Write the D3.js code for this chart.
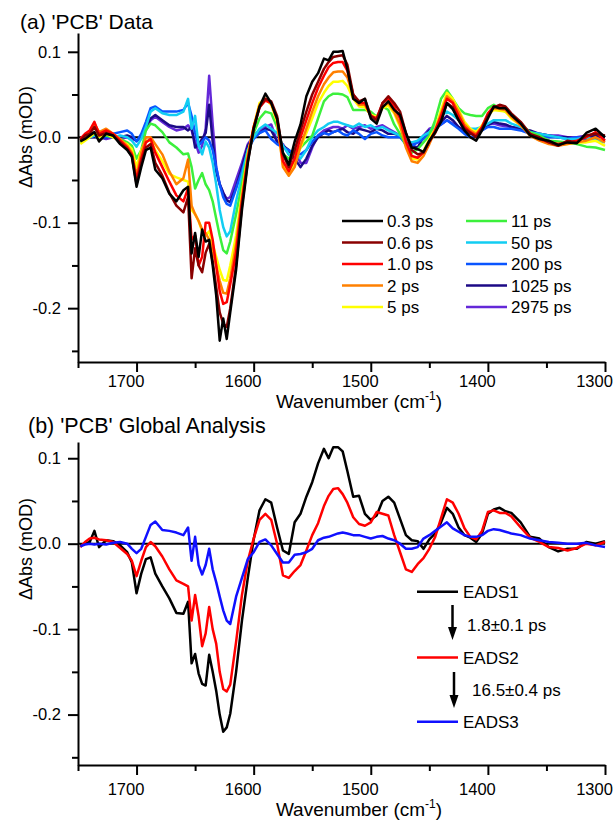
<!DOCTYPE html>
<html><head><meta charset="utf-8">
<script src="https://cdn.jsdelivr.net/npm/d3@7"></script>
<style>
body{margin:0;background:#fff}
svg{display:block}
text{font-family:"Liberation Sans",Arial,sans-serif;fill:#000}
</style>
</head><body>
<svg id="chart" width="614" height="820"></svg>
<script>
// ---------------- DATA ----------------
const wavenumber = [
 1748,1744,1740,1736,1732,1726,1720,1714,1708,1704,
 1700,1696,1692,1688,1684,1678,1672,1666,1660,1656,
 1653,1650,1647,1644,1641,1638,1635,1632,1629,1626,
 1623,1620,1615,1610,1605,1600,1595,1590,1585,1580,
 1575,1570,1565,1560,1555,1550,1545,1540,1536,1532,
 1528,1524,1520,1515,1510,1505,1500,1495,1490,1485,
 1480,1475,1470,1465,1460,1455,1450,1445,1440,1435,
 1430,1425,1420,1415,1410,1405,1400,1395,1390,1385,
 1380,1372,1364,1356,1348,1340,1332,1324,1316,1308,
 1300];

const delayLabels = ["0.3 ps","0.6 ps","1.0 ps","2 ps","5 ps","11 ps","50 ps","200 ps","1025 ps","2975 ps"];

const pcb_0_3ps = [
 -0.005,-0.002,0.002,0.006,-0.005,0.004,0.002,-0.008,-0.015,-0.023,
 -0.058,-0.035,-0.015,-0.012,-0.038,-0.048,-0.066,-0.075,-0.062,-0.058,
 -0.136,-0.112,-0.140,-0.108,-0.122,-0.120,-0.150,-0.185,-0.238,-0.212,
 -0.236,-0.205,-0.155,-0.085,-0.030,0.010,0.036,0.051,0.040,0.022,
 -0.018,-0.032,-0.005,0.015,0.048,0.065,0.075,0.092,0.090,0.100,
 0.100,0.101,0.080,0.045,0.040,0.045,0.022,0.016,0.035,0.042,
 0.032,0.026,0.005,-0.012,-0.014,-0.017,-0.004,0.006,0.018,0.040,
 0.033,0.020,0.008,0.000,-0.004,0.008,0.022,0.036,0.034,0.034,
 0.026,0.016,0.002,-0.002,-0.004,-0.009,-0.006,-0.007,0.005,0.010,
 0.000];
const pcb_0_6ps = [
 -0.004,0.002,0.004,0.012,0.002,0.005,0.002,-0.006,-0.014,-0.022,
 -0.055,-0.030,-0.012,-0.008,-0.030,-0.045,-0.065,-0.080,-0.088,-0.070,
 -0.165,-0.130,-0.150,-0.158,-0.135,-0.125,-0.145,-0.175,-0.205,-0.218,
 -0.222,-0.200,-0.150,-0.080,-0.028,0.010,0.035,0.045,0.042,0.025,
 -0.020,-0.035,-0.015,0.008,0.030,0.050,0.065,0.080,0.088,0.094,
 0.095,0.096,0.085,0.050,0.042,0.045,0.025,0.020,0.040,0.048,
 0.040,0.030,0.005,-0.015,-0.020,-0.018,-0.005,0.005,0.020,0.040,
 0.035,0.020,0.010,0.005,0.000,0.010,0.025,0.035,0.038,0.036,
 0.028,0.018,0.004,0.000,-0.006,-0.010,-0.004,-0.006,0.002,0.004,
 0.002];
const pcb_1_0ps = [
 -0.002,0.004,0.008,0.018,0.004,0.008,0.004,-0.004,-0.012,-0.020,
 -0.050,-0.025,-0.006,-0.002,-0.018,-0.035,-0.052,-0.068,-0.075,-0.060,
 -0.120,-0.115,-0.150,-0.140,-0.100,-0.100,-0.120,-0.150,-0.180,-0.195,
 -0.193,-0.172,-0.135,-0.075,-0.025,0.012,0.035,0.043,0.040,0.022,
 -0.028,-0.040,-0.025,0.000,0.020,0.040,0.058,0.072,0.082,0.087,
 0.088,0.088,0.078,0.050,0.040,0.040,0.025,0.022,0.040,0.045,
 0.036,0.022,-0.005,-0.022,-0.024,-0.018,-0.005,0.008,0.025,0.045,
 0.040,0.025,0.012,0.006,0.002,0.012,0.028,0.036,0.035,0.034,
 0.026,0.016,0.004,-0.002,-0.006,-0.008,-0.006,-0.004,0.000,0.006,
 -0.004];
const pcb_2ps = [
 -0.004,0.002,0.006,0.016,0.006,0.010,0.004,-0.002,-0.010,-0.018,
 -0.045,-0.018,0.000,0.000,-0.008,-0.020,-0.040,-0.055,-0.048,-0.026,
 -0.080,-0.090,-0.098,-0.108,-0.112,-0.120,-0.132,-0.150,-0.168,-0.182,
 -0.183,-0.165,-0.125,-0.070,-0.022,0.012,0.038,0.045,0.040,0.020,
 -0.035,-0.045,-0.035,-0.010,0.010,0.030,0.048,0.062,0.070,0.076,
 0.077,0.077,0.070,0.048,0.038,0.038,0.025,0.022,0.036,0.040,
 0.030,0.015,-0.012,-0.028,-0.030,-0.022,-0.008,0.008,0.028,0.048,
 0.042,0.030,0.015,0.008,0.004,0.012,0.026,0.034,0.033,0.032,
 0.024,0.014,0.002,-0.004,-0.008,-0.010,-0.008,-0.006,-0.004,0.000,
 -0.006];
const pcb_5ps = [
 -0.008,-0.004,0.000,0.005,0.000,0.004,0.000,-0.004,-0.008,-0.014,
 -0.035,-0.015,-0.004,-0.004,-0.015,-0.028,-0.043,-0.047,-0.050,-0.052,
 -0.085,-0.090,-0.098,-0.110,-0.115,-0.110,-0.125,-0.140,-0.155,-0.167,
 -0.168,-0.150,-0.115,-0.065,-0.020,0.012,0.040,0.045,0.038,0.018,
 -0.032,-0.042,-0.030,-0.012,0.005,0.022,0.040,0.052,0.060,0.065,
 0.065,0.066,0.060,0.045,0.036,0.035,0.026,0.024,0.034,0.037,
 0.028,0.012,-0.008,-0.025,-0.026,-0.016,-0.002,0.010,0.032,0.052,
 0.045,0.032,0.018,0.010,0.006,0.014,0.026,0.032,0.031,0.030,
 0.022,0.014,0.004,-0.002,-0.006,-0.008,-0.008,-0.006,-0.006,-0.004,
 -0.010];
const pcb_11ps = [
 -0.006,-0.002,0.002,0.004,0.002,0.002,0.000,-0.002,-0.006,-0.010,
 -0.025,-0.015,0.008,0.016,0.014,0.006,-0.006,-0.012,-0.020,-0.019,
 -0.035,-0.060,-0.050,-0.042,-0.055,-0.062,-0.075,-0.095,-0.115,-0.132,
 -0.136,-0.122,-0.090,-0.055,-0.018,0.005,0.022,0.030,0.028,0.012,
 -0.020,-0.025,-0.018,-0.012,-0.005,0.002,0.022,0.042,0.048,0.051,
 0.051,0.050,0.047,0.032,0.032,0.032,0.030,0.024,0.036,0.032,
 0.015,0.004,-0.010,-0.018,-0.014,-0.006,0.002,0.020,0.045,0.055,
 0.045,0.034,0.028,0.026,0.025,0.025,0.034,0.038,0.033,0.030,
 0.026,0.015,0.006,0.002,-0.004,-0.005,-0.006,-0.008,-0.011,-0.012,
 -0.015];
const pcb_50ps = [
 -0.004,-0.002,0.000,0.002,0.000,0.002,0.000,0.002,0.000,-0.004,
 -0.011,-0.002,0.012,0.030,0.034,0.028,0.026,0.026,0.030,0.045,
 0.010,0.025,-0.010,-0.020,-0.005,-0.012,-0.030,-0.055,-0.085,-0.105,
 -0.116,-0.110,-0.075,-0.045,-0.015,0.000,0.010,0.015,0.010,0.005,
 -0.010,-0.020,-0.018,-0.025,-0.015,0.000,0.008,0.012,0.016,0.018,
 0.018,0.016,0.014,0.012,0.016,0.012,0.014,0.010,0.012,0.008,
 0.005,0.002,-0.004,-0.006,-0.004,0.002,0.006,0.015,0.025,0.030,
 0.026,0.020,0.014,0.010,0.010,0.012,0.016,0.020,0.020,0.020,
 0.016,0.012,0.006,0.004,0.002,0.000,-0.002,-0.002,0.000,-0.004,
 -0.006];
const pcb_200ps = [
 -0.004,-0.002,0.000,0.002,0.000,0.000,0.004,0.006,0.008,0.004,
 -0.005,0.004,0.018,0.034,0.036,0.030,0.030,0.030,0.032,0.040,
 0.025,0.005,-0.010,-0.005,0.000,-0.004,-0.015,-0.035,-0.055,-0.070,
 -0.078,-0.080,-0.060,-0.040,-0.015,-0.002,0.005,0.008,-0.002,-0.008,
 -0.012,-0.015,-0.020,-0.020,-0.015,-0.005,0.002,0.005,0.003,0.006,
 0.008,0.004,0.002,0.008,0.004,-0.002,0.004,0.006,0.002,0.000,
 0.000,0.000,-0.008,-0.010,-0.006,-0.002,0.004,0.010,0.015,0.020,
 0.015,0.010,0.004,0.000,0.002,0.008,0.012,0.012,0.010,0.010,
 0.010,0.008,0.004,0.002,0.000,0.000,-0.002,0.000,-0.002,-0.002,
 -0.004];
const pcb_1025ps = [
 -0.002,0.000,0.000,0.000,0.000,0.000,0.002,0.000,0.002,0.000,
 -0.004,0.000,0.010,0.022,0.026,0.020,0.014,0.012,0.012,0.008,
 0.012,-0.012,-0.008,-0.002,0.005,0.038,-0.005,-0.040,-0.055,-0.065,
 -0.074,-0.076,-0.058,-0.035,-0.010,0.000,0.005,0.010,0.008,-0.005,
 -0.010,-0.015,-0.025,-0.035,-0.025,-0.010,0.000,0.005,0.008,0.006,
 0.008,0.010,0.006,0.004,0.010,0.008,0.006,0.010,0.008,0.004,
 0.004,0.002,-0.004,-0.010,-0.012,0.000,0.008,0.010,0.018,0.025,
 0.020,0.012,0.006,0.004,0.004,0.010,0.014,0.018,0.016,0.015,
 0.012,0.010,0.008,0.004,0.002,0.000,0.000,-0.002,0.000,0.002,
 0.000];
const pcb_2975ps = [
 -0.002,0.000,0.000,0.002,0.000,-0.002,0.000,-0.002,0.000,-0.002,
 -0.004,0.000,0.008,0.020,0.024,0.018,0.012,0.008,0.010,0.014,
 0.008,-0.005,-0.018,-0.010,0.010,0.072,0.015,-0.035,-0.055,-0.065,
 -0.072,-0.070,-0.050,-0.030,-0.008,0.002,0.008,0.012,0.015,-0.005,
 -0.008,-0.020,-0.015,-0.030,-0.030,-0.012,0.002,0.008,0.010,0.012,
 0.012,0.010,0.014,0.010,0.012,0.014,0.010,0.012,0.014,0.010,
 0.006,0.002,-0.004,-0.008,-0.006,0.002,0.010,0.012,0.015,0.020,
 0.016,0.012,0.008,0.006,0.008,0.012,0.015,0.016,0.014,0.013,
 0.012,0.010,0.006,0.004,0.002,0.002,0.000,0.000,0.002,0.000,
 0.002];

const eadsLabels = ["EADS1","EADS2","EADS3"];
const lifetimeLabels = ["1.8\u00b10.1 ps","16.5\u00b10.4 ps"];

const eads1 = [
 -0.002,0.000,0.002,0.015,-0.004,0.004,0.003,-0.002,-0.010,-0.022,
 -0.058,-0.035,-0.018,-0.016,-0.035,-0.050,-0.064,-0.081,-0.082,-0.068,
 -0.140,-0.129,-0.152,-0.164,-0.166,-0.130,-0.150,-0.172,-0.200,-0.220,
 -0.215,-0.199,-0.150,-0.090,-0.040,0.005,0.039,0.052,0.048,0.019,
 -0.008,-0.012,0.025,0.035,0.055,0.072,0.094,0.111,0.100,0.113,
 0.113,0.108,0.085,0.055,0.056,0.035,0.028,0.033,0.050,0.055,
 0.048,0.029,0.010,0.004,0.003,-0.006,0.005,0.012,0.025,0.042,
 0.035,0.019,0.010,0.007,0.002,0.012,0.035,0.040,0.042,0.038,
 0.036,0.025,0.008,0.006,-0.004,-0.009,-0.006,-0.006,0.002,0.000,
 0.003];
const eads2 = [
 -0.004,0.002,0.006,0.007,0.005,0.004,0.002,-0.005,-0.012,-0.020,
 -0.038,-0.020,-0.004,0.002,-0.003,-0.015,-0.030,-0.043,-0.047,-0.050,
 -0.090,-0.060,-0.085,-0.120,-0.105,-0.074,-0.100,-0.117,-0.150,-0.170,
 -0.173,-0.165,-0.115,-0.060,-0.020,0.006,0.028,0.035,0.028,0.000,
 -0.037,-0.040,-0.032,-0.025,-0.008,0.010,0.024,0.044,0.056,0.064,
 0.065,0.058,0.048,0.031,0.023,0.021,0.025,0.037,0.035,0.033,
 0.010,-0.010,-0.030,-0.033,-0.024,-0.017,-0.006,0.008,0.030,0.052,
 0.048,0.035,0.018,0.008,0.005,0.015,0.037,0.039,0.036,0.036,
 0.032,0.019,0.007,0.002,-0.004,-0.005,-0.008,-0.005,0.000,-0.002,
 0.002];
const eads3 = [
 -0.003,-0.001,0.000,-0.001,0.000,-0.001,0.001,0.002,0.000,-0.006,
 -0.011,-0.006,0.008,0.022,0.026,0.016,0.015,0.013,0.010,0.019,
 -0.020,0.008,-0.025,-0.036,-0.025,-0.006,-0.030,-0.045,-0.062,-0.078,
 -0.090,-0.094,-0.062,-0.040,-0.018,-0.010,0.002,0.005,-0.002,-0.012,
 -0.022,-0.022,-0.013,-0.012,-0.010,-0.006,0.004,0.007,0.008,0.010,
 0.012,0.013,0.012,0.010,0.010,0.008,0.006,0.008,0.009,0.006,
 0.004,0.000,-0.006,-0.006,-0.004,0.006,0.010,0.015,0.020,0.025,
 0.018,0.014,0.010,0.008,0.008,0.010,0.015,0.017,0.016,0.014,
 0.012,0.010,0.006,0.004,0.002,0.001,0.000,0.000,0.001,-0.002,
 -0.004];

const xTickValues = [1700,1600,1500,1400,1300];
const xTickLabels = ["1700","1600","1500","1400","1300"];
const xMinorValues = [1750,1650,1550,1450,1350];
const yTickValues = [-0.2,-0.1,0.0,0.1];
const yTickLabels = ["-0.2","-0.1","0.0","0.1"];
const yMinorValues = [-0.25,-0.15,-0.05,0.05];

// ---------------- DRAWING ----------------
const FONT = '"Liberation Sans", Arial, sans-serif';
const svg = d3.select("#chart");

const topSeries = [
  {values: pcb_2975ps, color: "#6428d8"},
  {values: pcb_1025ps, color: "#1c0a86"},
  {values: pcb_200ps,  color: "#0a55ff"},
  {values: pcb_50ps,   color: "#12cdf2"},
  {values: pcb_11ps,   color: "#3cf03c"},
  {values: pcb_5ps,    color: "#ffff00"},
  {values: pcb_2ps,    color: "#ff8000"},
  {values: pcb_1_0ps,  color: "#ff0000"},
  {values: pcb_0_6ps,  color: "#8a0000"},
  {values: pcb_0_3ps,  color: "#000000"}
];
const topColorsByLabel = ["#000000","#8a0000","#ff0000","#ff8000","#ffff00","#3cf03c","#12cdf2","#0a55ff","#1c0a86","#6428d8"];

const bottomSeries = [
  {values: eads1, color: "#000000"},
  {values: eads2, color: "#ff0000"},
  {values: eads3, color: "#1010ff"}
];

function drawPanel(o) {
  const x = d3.scaleLinear().domain([1750,1300]).range([78,605]);
  const y = d3.scaleLinear().domain(o.ydom).range([o.yBottom, o.yTop]);
  const g = svg.append("g");

  g.append("line").attr("x1", x(1750)).attr("x2", x(1300))
    .attr("y1", y(0)).attr("y2", y(0))
    .attr("stroke", "#000").attr("stroke-width", 2);

  const line = d3.line().x((d,i) => x(wavenumber[i])).y(d => y(d));
  o.series.forEach(s => {
    g.append("path").attr("d", line(s.values))
      .attr("fill", "none").attr("stroke", s.color)
      .attr("stroke-width", o.lw).attr("stroke-linejoin", "round");
  });

  // x axis
  const gx = g.append("g").attr("transform", `translate(0,${o.yBottom})`)
    .call(d3.axisBottom(x).tickValues(xTickValues).tickSize(10).tickSizeOuter(0)
      .tickFormat((d,i) => xTickLabels[i]));
  gx.select(".domain").attr("stroke-width", 2);
  gx.selectAll(".tick line").attr("stroke-width", 2);
  gx.selectAll(".tick text").attr("font-size", 16.5).attr("font-family", FONT)
    .attr("y", o.xLabelOffset).attr("x", -11).attr("fill", "#000");
  const gxm = g.append("g").attr("transform", `translate(0,${o.yBottom})`)
    .call(d3.axisBottom(x).tickValues(xMinorValues).tickSize(6).tickSizeOuter(0).tickFormat(""));
  gxm.select(".domain").remove();
  gxm.selectAll(".tick line").attr("stroke-width", 2);

  // y axis
  const gy = g.append("g").attr("transform", `translate(78,0)`)
    .call(d3.axisLeft(y).tickValues(yTickValues).tickSize(10).tickSizeOuter(0)
      .tickFormat((d,i) => yTickLabels[i]));
  gy.select(".domain").attr("stroke-width", 2);
  gy.selectAll(".tick line").attr("stroke-width", 2);
  gy.selectAll(".tick text").attr("font-size", 16.5).attr("font-family", FONT)
    .attr("x", -17).attr("fill", "#000");
  const gym = g.append("g").attr("transform", `translate(78,0)`)
    .call(d3.axisLeft(y).tickValues(yMinorValues).tickSize(6).tickSizeOuter(0).tickFormat(""));
  gym.select(".domain").remove();
  gym.selectAll(".tick line").attr("stroke-width", 2);

  // titles
  g.append("text").attr("x", o.titleX).attr("y", o.titleY)
    .attr("font-size", o.titleSize).text(o.title);
  g.append("text").attr("transform", `translate(31.5,${o.yLabelCenter}) rotate(-90)`)
    .attr("text-anchor", "middle").attr("font-size", 18).text("\u0394Abs (mOD)");
  const xt = g.append("text").attr("x", 359).attr("y", o.xTitleY)
    .attr("text-anchor", "middle").attr("font-size", 19);
  xt.append("tspan").text("Wavenumber (cm");
  xt.append("tspan").attr("font-size", 12).attr("dy", -8).text("-1");
  xt.append("tspan").attr("dy", 8).text(")");
  return {x, y, g};
}

// Panel (a)
const pa = drawPanel({
  ydom: [-0.263, 0.122], yBottom: 362, yTop: 33, lw: 2.5,
  series: topSeries, xLabelOffset: 13.3, title: "(a) 'PCB' Data",
  titleX: 20, titleY: 29, titleSize: 21, yLabelCenter: 137, xTitleY: 408
});

// legend (a)
const legA = pa.g.append("g");
delayLabels.forEach((lab, i) => {
  const col = Math.floor(i / 5), row = i % 5;
  const lx = col === 0 ? 342 : 466;
  const ly = 221 + row * 21.5;
  legA.append("line").attr("x1", lx).attr("x2", lx + 41).attr("y1", ly).attr("y2", ly)
    .attr("stroke", topColorsByLabel[i]).attr("stroke-width", 2.5);
  legA.append("text").attr("x", lx + 45).attr("y", ly).attr("dy", "0.36em")
    .attr("font-size", 17).text(lab);
});

// Panel (b)
const pb = drawPanel({
  ydom: [-0.259, 0.119], yBottom: 765, yTop: 442, lw: 2.5,
  series: bottomSeries, xLabelOffset: 18, title: "(b) 'PCB' Global Analysis",
  titleX: 28, titleY: 433, titleSize: 21.5, yLabelCenter: 549, xTitleY: 815.5
});

// legend (b)
const legB = pb.g.append("g");
const eadsY = [591.7, 657.5, 721.7];
eadsLabels.forEach((lab, i) => {
  legB.append("line").attr("x1", 417).attr("x2", 458).attr("y1", eadsY[i]).attr("y2", eadsY[i])
    .attr("stroke", bottomSeries[i].color).attr("stroke-width", 2.5);
  legB.append("text").attr("x", 463).attr("y", eadsY[i]).attr("dy", "0.36em")
    .attr("font-size", 17).text(lab);
});
const arrows = [{x: 452.5, y1: 605, y2: 640, tx: 467, ty: 625},
                {x: 454, y1: 672, y2: 708, tx: 472, ty: 690}];
arrows.forEach((a, i) => {
  legB.append("line").attr("x1", a.x).attr("x2", a.x).attr("y1", a.y1).attr("y2", a.y2 - 10)
    .attr("stroke", "#000").attr("stroke-width", 2.5);
  legB.append("path")
    .attr("d", `M${a.x - 4.5},${a.y2 - 13} L${a.x + 4.5},${a.y2 - 13} L${a.x},${a.y2} Z`)
    .attr("fill", "#000");
  legB.append("text").attr("x", a.tx).attr("y", a.ty).attr("dy", "0.36em")
    .attr("font-size", 17).text(lifetimeLabels[i]);
});
</script>
</body></html>
